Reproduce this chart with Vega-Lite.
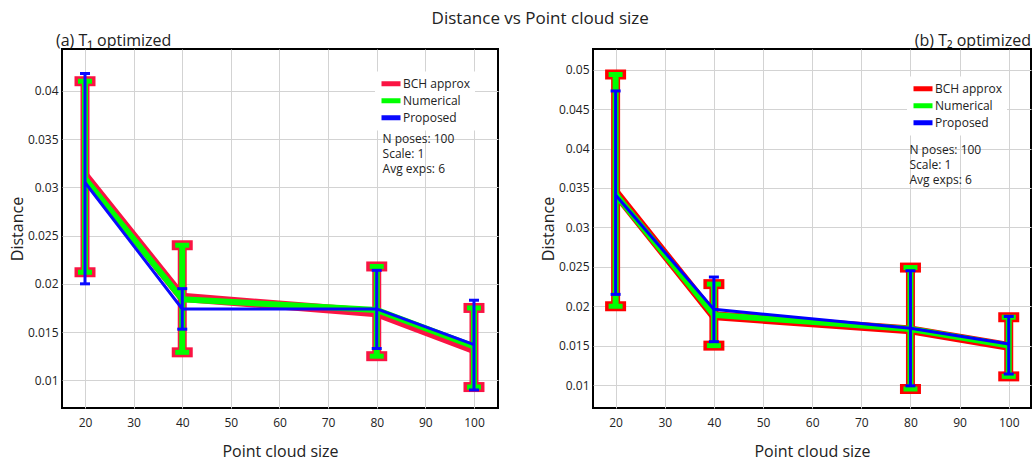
{
  "$schema": "https://vega.github.io/schema/vega-lite/v6.json",
  "background": "white",
  "padding": {"left": 8, "top": 10, "right": 2, "bottom": 2},
  "title": {"text": "Distance vs Point cloud size", "fontSize": 17, "fontWeight": "normal", "anchor": "middle", "dx": 20, "color": "#222", "offset": 4},
  "config": {
    "font": "Open Sans",
    "view": {"stroke": "black", "strokeWidth": 2},
    "axis": {"domain": false, "ticks": false, "labelFontSize": 12, "labelColor": "#222", "titleFontSize": 16, "titleFontWeight": "normal", "titleColor": "#222", "gridColor": "#d3d3d3", "gridWidth": 1, "labelPadding": 4},
    "axisX": {"titlePadding": 15, "labelPadding": 9},
    "axisY": {"titlePadding": 2},
    "legend": {"orient": "none", "title": null, "symbolType": "stroke", "symbolStrokeWidth": 5, "symbolSize": 361, "labelFontSize": 12, "labelColor": "#222", "fillColor": "white", "padding": 4, "rowPadding": 0, "clipHeight": 16.5, "labelOffset": 0}
  },
  "datasets": {
    "a": [
      {"series": "BCH approx", "x": 20, "mean": 0.0312, "lo": 0.0212, "hi": 0.0410},
      {"series": "BCH approx", "x": 40, "mean": 0.0186, "lo": 0.0129, "hi": 0.0240},
      {"series": "BCH approx", "x": 80, "mean": 0.0170, "lo": 0.0125, "hi": 0.0218},
      {"series": "BCH approx", "x": 100, "mean": 0.0132, "lo": 0.0093, "hi": 0.0175},
      {"series": "Numerical", "x": 20, "mean": 0.0309, "lo": 0.0212, "hi": 0.0410},
      {"series": "Numerical", "x": 40, "mean": 0.0184, "lo": 0.0129, "hi": 0.0240},
      {"series": "Numerical", "x": 80, "mean": 0.0173, "lo": 0.0125, "hi": 0.0218},
      {"series": "Numerical", "x": 100, "mean": 0.0135, "lo": 0.0093, "hi": 0.0175},
      {"series": "Proposed", "x": 20, "mean": 0.0305, "lo": 0.0200, "hi": 0.0418},
      {"series": "Proposed", "x": 40, "mean": 0.0174, "lo": 0.0153, "hi": 0.0195},
      {"series": "Proposed", "x": 80, "mean": 0.0174, "lo": 0.0133, "hi": 0.0214},
      {"series": "Proposed", "x": 100, "mean": 0.0137, "lo": 0.0090, "hi": 0.0183}
    ],
    "b": [
      {"series": "BCH approx", "x": 20, "mean": 0.0344, "lo": 0.0200, "hi": 0.0494},
      {"series": "BCH approx", "x": 40, "mean": 0.0188, "lo": 0.0150, "hi": 0.0228},
      {"series": "BCH approx", "x": 80, "mean": 0.0170, "lo": 0.0095, "hi": 0.0249},
      {"series": "BCH approx", "x": 100, "mean": 0.0149, "lo": 0.0111, "hi": 0.0186},
      {"series": "Numerical", "x": 20, "mean": 0.0342, "lo": 0.0200, "hi": 0.0494},
      {"series": "Numerical", "x": 40, "mean": 0.0189, "lo": 0.0150, "hi": 0.0228},
      {"series": "Numerical", "x": 80, "mean": 0.0171, "lo": 0.0095, "hi": 0.0249},
      {"series": "Numerical", "x": 100, "mean": 0.0150, "lo": 0.0111, "hi": 0.0186},
      {"series": "Proposed", "x": 20, "mean": 0.0341, "lo": 0.0215, "hi": 0.0473},
      {"series": "Proposed", "x": 40, "mean": 0.0196, "lo": 0.0155, "hi": 0.0237},
      {"series": "Proposed", "x": 80, "mean": 0.0172, "lo": 0.0099, "hi": 0.0245},
      {"series": "Proposed", "x": 100, "mean": 0.0152, "lo": 0.0114, "hi": 0.0187}
    ]
  },
  "spacing": 40,
  "resolve": {"scale": {"x": "independent", "y": "independent", "color": "independent"}, "legend": {"color": "independent"}},
  "hconcat": [
    {
      "width": 436, "height": 359,
      "title": {"text": "(a) T₁ optimized", "anchor": "start", "frame": "group", "dx": -6, "fontSize": 16, "fontWeight": "normal", "color": "#222", "offset": 0},
      "layer": [
        {
          "data": {"name": "a"},
          "encoding": {
            "x": {"field": "x", "type": "quantitative", "scale": {"domain": [15.27, 104.94], "nice": false, "zero": false}, "axis": {"values": [20, 30, 40, 50, 60, 70, 80, 90, 100], "title": "Point cloud size", "format": "d"}}
          },
          "layer": [
            {"transform": [{"filter": "datum.series == 'BCH approx'"}], "mark": {"type": "line", "strokeWidth": 9},
             "encoding": {"y": {"field": "mean", "type": "quantitative", "scale": {"domain": [0.00713, 0.04434], "nice": false, "zero": false}, "axis": {"values": [0.01, 0.015, 0.02, 0.025, 0.03, 0.035, 0.04], "title": "Distance", "format": "~g"}},
               "color": {"field": "series", "type": "nominal", "scale": {"domain": ["BCH approx", "Numerical", "Proposed"], "range": ["#fa1443", "#00ff00", "#0a0aff"]},
                 "legend": {"legendX": 313, "legendY": 22.5}}}},
            {"transform": [{"filter": "datum.series == 'BCH approx'"}], "mark": {"type": "rule", "strokeWidth": 9},
             "encoding": {"y": {"field": "lo", "type": "quantitative"}, "y2": {"field": "hi"}, "color": {"field": "series", "type": "nominal"}}},
            {"transform": [{"filter": "datum.series == 'BCH approx'"}, {"fold": ["lo", "hi"], "as": ["k", "v"]}], "mark": {"type": "tick", "orient": "horizontal", "thickness": 10, "size": 21, "opacity": 1},
             "encoding": {"y": {"field": "v", "type": "quantitative"}, "color": {"field": "series", "type": "nominal"}}},
            {"transform": [{"filter": "datum.series == 'Numerical'"}], "mark": {"type": "line", "strokeWidth": 6},
             "encoding": {"y": {"field": "mean", "type": "quantitative"}, "color": {"field": "series", "type": "nominal"}}},
            {"transform": [{"filter": "datum.series == 'Numerical'"}], "mark": {"type": "rule", "strokeWidth": 6},
             "encoding": {"y": {"field": "lo", "type": "quantitative"}, "y2": {"field": "hi"}, "color": {"field": "series", "type": "nominal"}}},
            {"transform": [{"filter": "datum.series == 'Numerical'"}, {"fold": ["lo", "hi"], "as": ["k", "v"]}], "mark": {"type": "tick", "orient": "horizontal", "thickness": 5, "size": 14, "opacity": 1},
             "encoding": {"y": {"field": "v", "type": "quantitative"}, "color": {"field": "series", "type": "nominal"}}},
            {"transform": [{"filter": "datum.series == 'Proposed'"}], "mark": {"type": "line", "strokeWidth": 3},
             "encoding": {"y": {"field": "mean", "type": "quantitative"}, "color": {"field": "series", "type": "nominal"}}},
            {"transform": [{"filter": "datum.series == 'Proposed'"}], "mark": {"type": "rule", "strokeWidth": 3},
             "encoding": {"y": {"field": "lo", "type": "quantitative"}, "y2": {"field": "hi"}, "color": {"field": "series", "type": "nominal"}}},
            {"transform": [{"filter": "datum.series == 'Proposed'"}, {"fold": ["lo", "hi"], "as": ["k", "v"]}], "mark": {"type": "tick", "orient": "horizontal", "thickness": 3, "size": 10, "opacity": 1},
             "encoding": {"y": {"field": "v", "type": "quantitative"}, "color": {"field": "series", "type": "nominal"}}}
          ]
        },
        {"data": {"values": [{"note": ["N poses: 100", "Scale: 1", "Avg exps: 6"]}]},
         "mark": {"type": "text", "align": "left", "baseline": "middle", "fontSize": 12, "lineHeight": 15, "color": "#222"},
         "encoding": {"x": {"datum": 81.2, "type": "quantitative"}, "y": {"datum": 0.035, "type": "quantitative"}, "text": {"field": "note"}}}
      ]
    },
    {
      "width": 438, "height": 359,
      "title": {"text": "(b) T₂ optimized", "anchor": "end", "frame": "group", "fontSize": 16, "fontWeight": "normal", "color": "#222", "offset": 0},
      "layer": [
        {
          "data": {"name": "b"},
          "encoding": {
            "x": {"field": "x", "type": "quantitative", "scale": {"domain": [15.4, 104.53], "nice": false, "zero": false}, "axis": {"values": [20, 30, 40, 50, 60, 70, 80, 90, 100], "title": "Point cloud size", "format": "d"}}
          },
          "layer": [
            {"transform": [{"filter": "datum.series == 'BCH approx'"}], "mark": {"type": "line", "strokeWidth": 9},
             "encoding": {"y": {"field": "mean", "type": "quantitative", "scale": {"domain": [0.00709, 0.05262], "nice": false, "zero": false}, "axis": {"values": [0.01, 0.015, 0.02, 0.025, 0.03, 0.035, 0.04, 0.045, 0.05], "title": "Distance", "format": "~g"}},
               "color": {"field": "series", "type": "nominal", "scale": {"domain": ["BCH approx", "Numerical", "Proposed"], "range": ["#ff0000", "#00ff00", "#0000ff"]},
                 "legend": {"legendX": 314, "legendY": 27.5}}}},
            {"transform": [{"filter": "datum.series == 'BCH approx'"}], "mark": {"type": "rule", "strokeWidth": 9},
             "encoding": {"y": {"field": "lo", "type": "quantitative"}, "y2": {"field": "hi"}, "color": {"field": "series", "type": "nominal"}}},
            {"transform": [{"filter": "datum.series == 'BCH approx'"}, {"fold": ["lo", "hi"], "as": ["k", "v"]}], "mark": {"type": "tick", "orient": "horizontal", "thickness": 10, "size": 21, "opacity": 1},
             "encoding": {"y": {"field": "v", "type": "quantitative"}, "color": {"field": "series", "type": "nominal"}}},
            {"transform": [{"filter": "datum.series == 'Numerical'"}], "mark": {"type": "line", "strokeWidth": 6},
             "encoding": {"y": {"field": "mean", "type": "quantitative"}, "color": {"field": "series", "type": "nominal"}}},
            {"transform": [{"filter": "datum.series == 'Numerical'"}], "mark": {"type": "rule", "strokeWidth": 6},
             "encoding": {"y": {"field": "lo", "type": "quantitative"}, "y2": {"field": "hi"}, "color": {"field": "series", "type": "nominal"}}},
            {"transform": [{"filter": "datum.series == 'Numerical'"}, {"fold": ["lo", "hi"], "as": ["k", "v"]}], "mark": {"type": "tick", "orient": "horizontal", "thickness": 5, "size": 14, "opacity": 1},
             "encoding": {"y": {"field": "v", "type": "quantitative"}, "color": {"field": "series", "type": "nominal"}}},
            {"transform": [{"filter": "datum.series == 'Proposed'"}], "mark": {"type": "line", "strokeWidth": 3},
             "encoding": {"y": {"field": "mean", "type": "quantitative"}, "color": {"field": "series", "type": "nominal"}}},
            {"transform": [{"filter": "datum.series == 'Proposed'"}], "mark": {"type": "rule", "strokeWidth": 3},
             "encoding": {"y": {"field": "lo", "type": "quantitative"}, "y2": {"field": "hi"}, "color": {"field": "series", "type": "nominal"}}},
            {"transform": [{"filter": "datum.series == 'Proposed'"}, {"fold": ["lo", "hi"], "as": ["k", "v"]}], "mark": {"type": "tick", "orient": "horizontal", "thickness": 3, "size": 10, "opacity": 1},
             "encoding": {"y": {"field": "v", "type": "quantitative"}, "color": {"field": "series", "type": "nominal"}}}
          ]
        },
        {"data": {"values": [{"note": ["N poses: 100", "Scale: 1", "Avg exps: 6"]}]},
         "mark": {"type": "text", "align": "left", "baseline": "middle", "fontSize": 12, "lineHeight": 15, "color": "#222"},
         "encoding": {"x": {"datum": 79.8, "type": "quantitative"}, "y": {"datum": 0.03976, "type": "quantitative"}, "text": {"field": "note"}}}
      ]
    }
  ]
}
